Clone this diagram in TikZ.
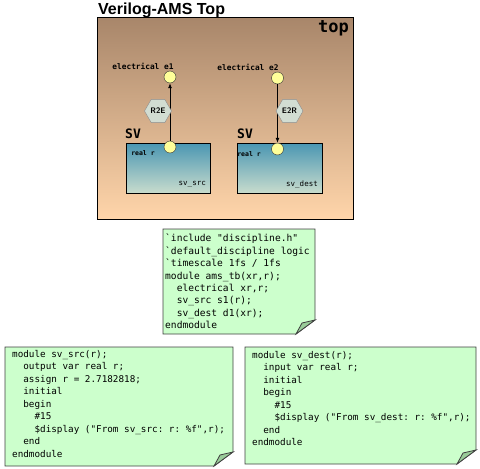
\documentclass[tikz,border=0pt]{standalone}
\usepackage{fontspec}
\setmainfont{Liberation Sans}
\setmonofont{DejaVu Sans Mono}
\usetikzlibrary{arrows.meta, shapes.geometric}
\definecolor{topdark}{HTML}{A8866A}
\definecolor{toplight}{HTML}{FFD5AA}
\definecolor{svtop}{HTML}{4A96B2}
\definecolor{svbot}{HTML}{C8DCCD}
\definecolor{portfill}{HTML}{FFFF99}
\definecolor{convfill}{HTML}{D2DDD2}
\definecolor{notefill}{HTML}{CCFFCC}
\definecolor{notefold}{HTML}{99CC99}
\newcommand{\mono}[1]{\ttfamily\fontsize{#1}{#1}\selectfont}
% a code note with a folded lower right corner: x1 y1 x2 y2
\newcommand{\codenote}[4]{%
  \draw[fill=notefill, draw=black!75, line width=0.8pt]
    (#1,#2) -- (#3,#2) -- (#3,{#4-14}) -- ({#3-19},#4) -- (#1,#4) -- cycle;
  \draw[fill=notefold, draw=black!75, line width=0.8pt]
    ({#3-19},#4) .. controls ({#3-16},{#4-5}) .. ({#3-13},{#4-11}) -- (#3,{#4-14}) -- cycle;}

\begin{document}
\begin{tikzpicture}[x=1pt, y=-1pt,
    port/.style={circle, draw=black!80, fill=portfill, minimum size=12pt, inner sep=0},
    conv/.style={regular polygon, regular polygon sides=6, draw=black!45, fill=convfill,
                 minimum size=27pt, inner sep=0, font=\sffamily\bfseries\fontsize{8}{8}\selectfont},
    code/.style={anchor=north west, align=left, inner sep=0,
                 font=\ttfamily\fontsize{9.3}{12.5}\selectfont}]
  \useasboundingbox (0,0) rectangle (480,469);

  % title
  \node[anchor=base west, inner sep=0, font=\bfseries\fontsize{16}{16}\selectfont]
    (title) at (98,14) {Verilog-AMS Top};

  % the top module
  \draw[top color=topdark, bottom color=toplight, line width=0.9pt] (97,17) rectangle (353,219);
  \node[anchor=north east, inner sep=0, font=\mono{17}\bfseries] (toplbl) at (349,20) {top};

  % the two SV blocks
  \draw[top color=svtop, bottom color=svbot, line width=0.8pt] (126,143) rectangle (210,193);
  \draw[top color=svtop, bottom color=svbot, line width=0.8pt] (237,143) rectangle (322,193);
  \node[anchor=west, inner sep=0, font=\mono{13}\bfseries] (sv1) at (125,134) {SV};
  \node[anchor=west, inner sep=0, font=\mono{13}\bfseries] (sv2) at (237,134) {SV};
  \node[anchor=east, inner sep=0, font=\mono{7.5}] (src) at (206,184) {sv\_src};
  \node[anchor=east, inner sep=0, font=\mono{7.5}] (dest) at (318,185) {sv\_dest};
  \node[inner sep=0, font=\mono{6.5}\bfseries] (rsrc) at (143,153) {real r};
  \node[inner sep=0, font=\mono{6.5}\bfseries] (rdest) at (249,154) {real r};

  % ports and nets
  \node[inner sep=0, font=\mono{7.8}\bfseries] (e1lbl) at (143,66) {electrical e1};
  \node[inner sep=0, font=\mono{7.8}\bfseries] (e2lbl) at (248,67) {electrical e2};
  \node[port] (e1) at (170,77) {};
  \node[port] (r1) at (170,147) {};
  \node[port] (e2) at (277.5,78) {};
  \node[port] (r2) at (277.5,149) {};
  \draw[line width=0.8pt, -{Latex[length=5pt, width=4pt]}] (r1) -- (e1);
  \draw[line width=0.8pt, -{Latex[length=5pt, width=4pt]}] (e2) -- (r2);

  % connect modules
  \node[conv] (r2e) at (158,111) {R2E};
  \node[conv] (e2r) at (289.5,111) {E2R};

  % the testbench
  \codenote{163}{229}{315}{334}
  \node[code, font=\ttfamily\fontsize{9.6}{12.4}\selectfont] (tb) at (165,234) {%
    \symbol{96}include "discipline.h"\\
    \symbol{96}default\_discipline logic\\
    \symbol{96}timescale 1fs / 1fs\\
    module ams\_tb(xr,r);\\
    \ \ electrical xr,r;\\
    \ \ sv\_src s1(r);\\
    \ \ sv\_dest d1(xr);\\
    endmodule};

  % source module
  \codenote{5}{347}{233}{466}
  \node[code] (srccode) at (12,350) {%
    module sv\_src(r);\\
    \ \ output var real r;\\
    \ \ assign r = 2.7182818;\\
    \ \ initial\\
    \ \ begin\\
    \ \ \ \ \#15\\
    \ \ \ \ \$display ("From sv\_src: r: \%f",r);\\
    \ \ end\\
    endmodule};

  % destination module
  \codenote{245}{347}{476}{464}
  \node[code] (destcode) at (252,351) {%
    module sv\_dest(r);\\
    \ \ input var real r;\\
    \ \ initial\\
    \ \ begin\\
    \ \ \ \ \#15\\
    \ \ \ \ \$display ("From sv\_dest: r: \%f",r);\\
    \ \ end\\
    endmodule};
\end{tikzpicture}
\end{document}
